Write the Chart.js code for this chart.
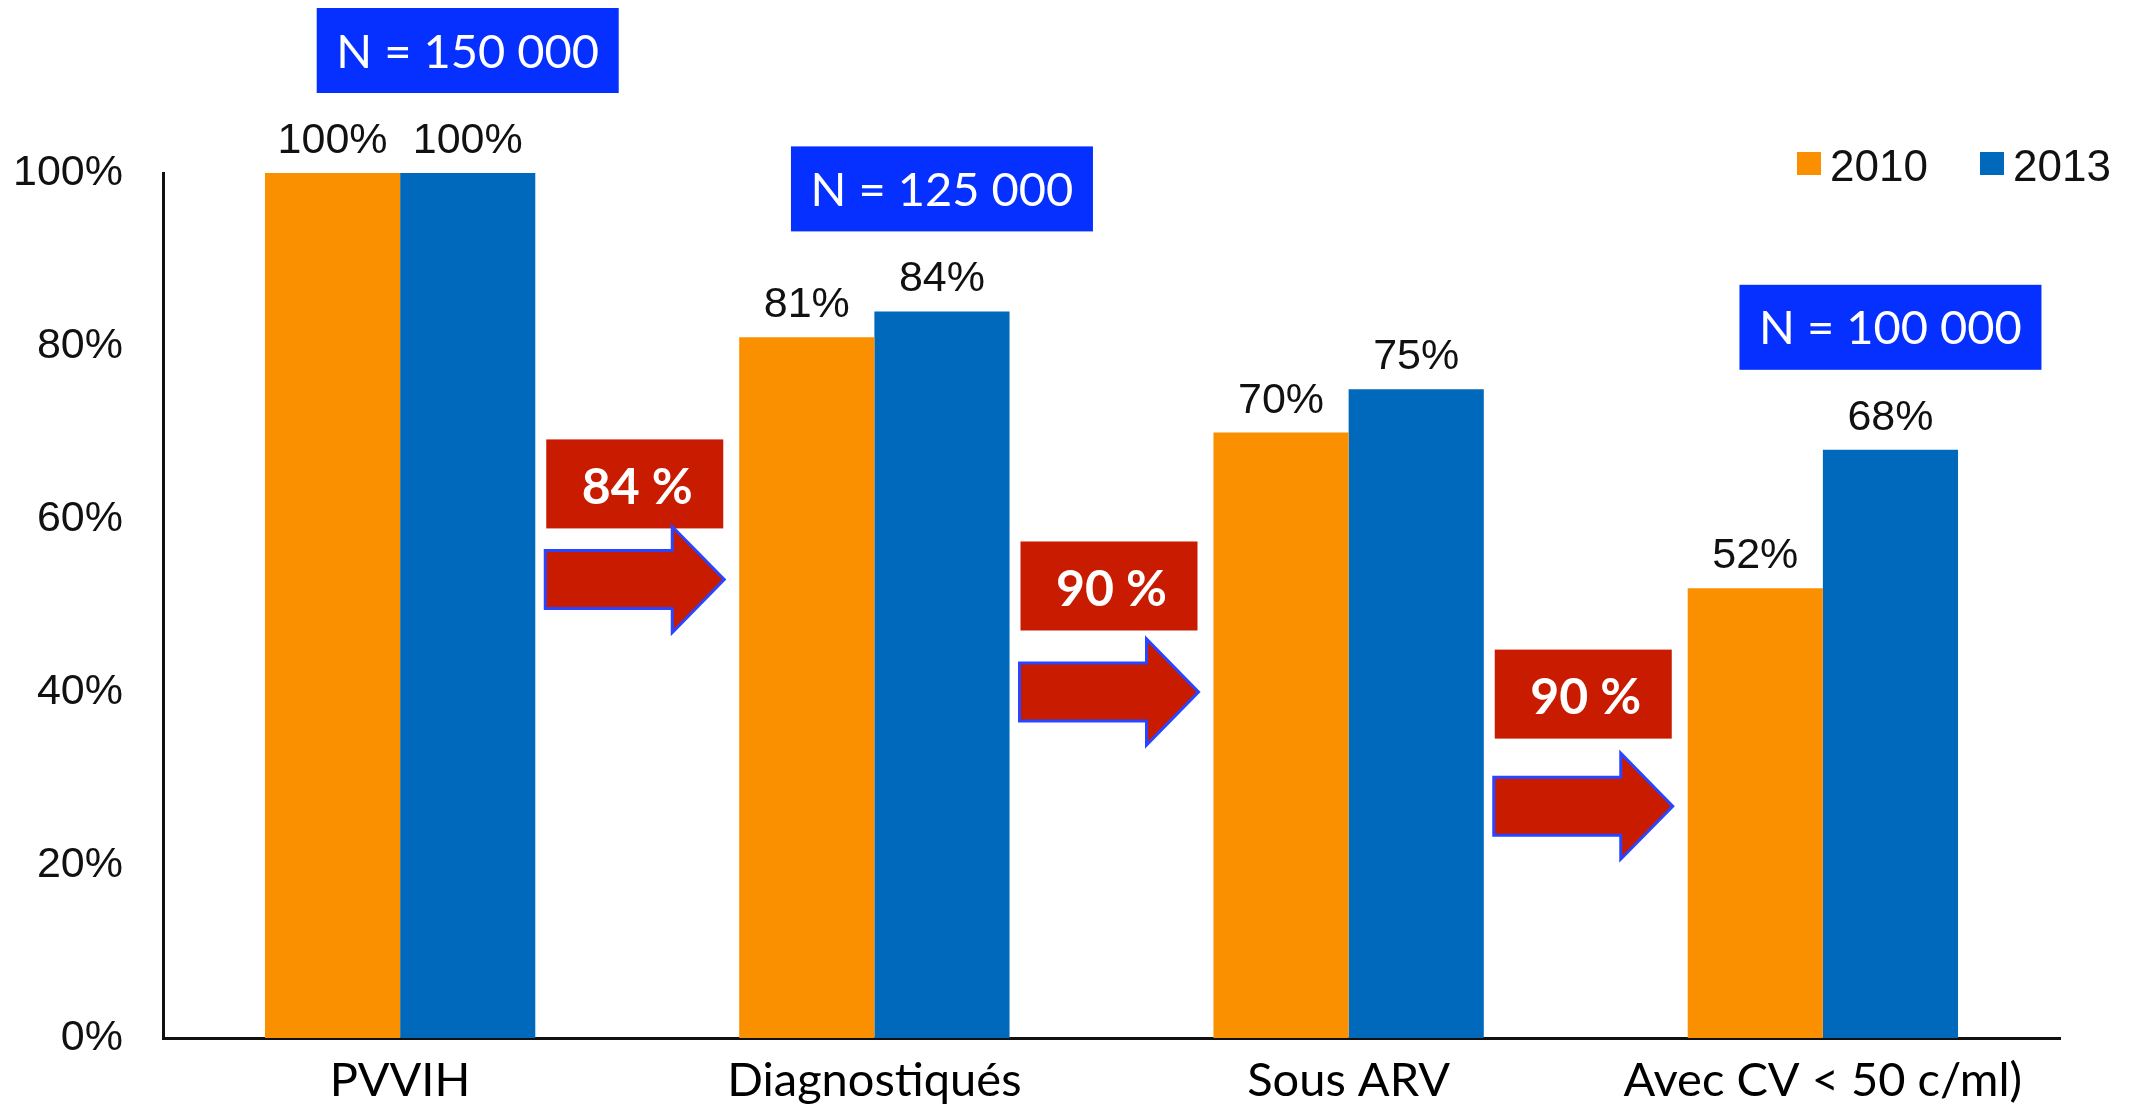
<!DOCTYPE html>
<html>
<head>
<meta charset="utf-8">
<script src="https://cdn.jsdelivr.net/npm/chart.js@4.4.1/dist/chart.umd.min.js"></script>
<style>
  html, body { margin: 0; padding: 0; background: #ffffff; }
  canvas { display: block; }
</style>
</head>
<body>
<canvas id="cascade" width="2136" height="1108"></canvas>
<script>
// Cascade of HIV care, 2010 vs 2013
const categories = ['PVVIH', 'Diagnostiqués', 'Sous ARV', 'Avec CV < 50 c/ml)'];
const seriesNames = ['2010', '2013'];
const values2010 = [100, 81, 70, 52];
const values2013 = [100, 84, 75, 68];
const yTicks = [0, 20, 40, 60, 80, 100];

// Population sizes shown above the 2013 bars (null = no box)
const populationLabels = ['N = 150 000', 'N = 125 000', null, 'N = 100 000'];
// Conversion rate between consecutive steps
const stepRates = ['84 %', '90 %', '90 %'];
// Vertical placement of the step boxes and arrows, in axis units (%)
const stepBoxTop = [69.2, 57.4, 44.9];
const stepArrowMid = [53.0, 40.0, 26.8];

const COLORS = {
  orange: '#FA9000',
  blue: '#0069BB',
  popBox: '#0530FF',
  step: '#C81B00',
  arrowEdge: '#2A45FF',
  text: '#111111'
};

const cascadeDecor = {
  id: 'cascadeDecor',
  afterDatasetsDraw(chart) {
    const ctx = chart.ctx;
    const xs = chart.scales.x;
    const ys = chart.scales.y;
    ctx.save();

    // value labels above each bar
    ctx.font = '43px "Liberation Sans", Arial, sans-serif';
    ctx.fillStyle = COLORS.text;
    ctx.textAlign = 'center';
    ctx.textBaseline = 'alphabetic';
    chart.data.datasets.forEach((ds, di) => {
      chart.getDatasetMeta(di).data.forEach((bar, i) => {
        ctx.fillText(ds.data[i] + '%', bar.x, bar.y - 20);
      });
    });

    // population boxes above the 2013 bars
    const meta2013 = chart.getDatasetMeta(1);
    populationLabels.forEach((txt, i) => {
      if (!txt) return;
      const bar = meta2013.data[i];
      const w = 302, h = 85;
      const bottom = bar.y - 80;
      ctx.fillStyle = COLORS.popBox;
      ctx.fillRect(bar.x - w / 2, bottom - h, w, h);
      ctx.fillStyle = '#ffffff';
      ctx.font = '47px Lato, "Noto Sans", sans-serif';
      ctx.textAlign = 'center';
      ctx.textBaseline = 'middle';
      ctx.fillText(txt, bar.x, bottom - h / 2 + 2);
    });

    // step rate boxes and arrows between categories
    stepRates.forEach((txt, i) => {
      const mid = (xs.getPixelForValue(i) + xs.getPixelForValue(i + 1)) / 2;
      const top = ys.getPixelForValue(stepBoxTop[i]);
      ctx.fillStyle = COLORS.step;
      ctx.fillRect(mid - 91, top, 177, 89);
      ctx.fillStyle = '#ffffff';
      ctx.font = 'bold 50px Lato, "Noto Sans", sans-serif';
      ctx.textAlign = 'center';
      ctx.textBaseline = 'middle';
      ctx.fillText(txt, mid, top + 48);

      const ay = ys.getPixelForValue(stepArrowMid[i]);
      const x0 = mid - 92, xn = mid + 35, x1 = mid + 87;
      ctx.beginPath();
      ctx.moveTo(x0, ay - 29);
      ctx.lineTo(xn, ay - 29);
      ctx.lineTo(xn, ay - 53);
      ctx.lineTo(x1, ay);
      ctx.lineTo(xn, ay + 53);
      ctx.lineTo(xn, ay + 29);
      ctx.lineTo(x0, ay + 29);
      ctx.closePath();
      ctx.fillStyle = COLORS.step;
      ctx.fill();
      ctx.strokeStyle = COLORS.arrowEdge;
      ctx.lineWidth = 3;
      ctx.lineJoin = 'miter';
      ctx.stroke();
    });

    // legend, top right
    const legendX = 1797, legendY = 152, itemGap = 183;
    ctx.font = '44px "Liberation Sans", Arial, sans-serif';
    ctx.textAlign = 'left';
    ctx.textBaseline = 'alphabetic';
    chart.data.datasets.forEach((ds, di) => {
      const lx = legendX + di * itemGap;
      ctx.fillStyle = ds.backgroundColor;
      ctx.fillRect(lx, legendY, 24, 23);
      ctx.fillStyle = COLORS.text;
      ctx.fillText(ds.label, lx + 33, legendY + 29);
    });

    ctx.restore();
  }
};

new Chart(document.getElementById('cascade'), {
  type: 'bar',
  data: {
    labels: categories,
    datasets: [
      { label: seriesNames[0], data: values2010, backgroundColor: COLORS.orange, borderWidth: 0 },
      { label: seriesNames[1], data: values2013, backgroundColor: COLORS.blue, borderWidth: 0 }
    ]
  },
  options: {
    responsive: false,
    devicePixelRatio: 1,
    animation: false,
    layout: { padding: { top: 173, right: 76, bottom: 0, left: 0 } },
    datasets: { bar: { categoryPercentage: 0.57, barPercentage: 1.0 } },
    plugins: {
      legend: { display: false },
      tooltip: { enabled: false }
    },
    scales: {
      x: {
        grid: { display: false, drawTicks: false },
        border: { display: true, color: '#111111', width: 3 },
        ticks: {
          color: '#000000',
          padding: 15,
          maxRotation: 0,
          autoSkip: false,
          font: { family: 'Lato, "Noto Sans", sans-serif', size: 47 }
        },
        afterFit(scale) { scale.height = 70; }
      },
      y: {
        min: 0,
        max: 100,
        afterBuildTicks(scale) { scale.ticks = yTicks.map(v => ({ value: v })); },
        grid: { display: false, drawTicks: false },
        border: { display: true, color: '#111111', width: 3 },
        ticks: {
          color: COLORS.text,
          padding: 40,
          font: { family: '"Liberation Sans", Arial, sans-serif', size: 43 },
          callback: v => v + '%'
        },
        afterFit(scale) { scale.width = 163; }
      }
    }
  },
  plugins: [cascadeDecor]
});
</script>
</body>
</html>
